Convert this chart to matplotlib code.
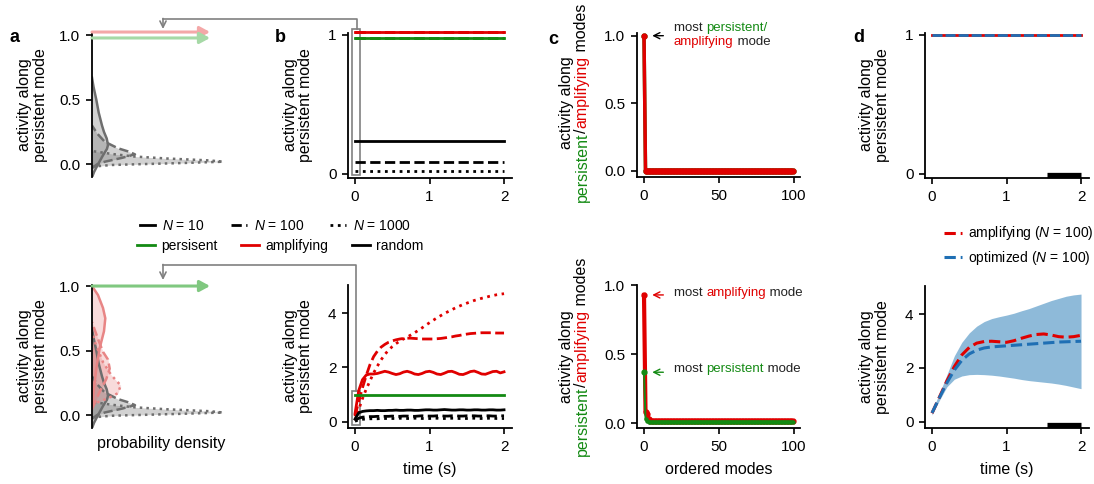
import numpy as np
import matplotlib
matplotlib.use('Agg')
import matplotlib.pyplot as plt
from matplotlib.patches import Rectangle
from matplotlib.lines import Line2D

plt.rcParams['font.family'] = ['Liberation Sans', 'DejaVu Sans']
plt.rcParams['mathtext.fontset'] = 'custom'
plt.rcParams['mathtext.rm'] = 'Liberation Sans'
plt.rcParams['mathtext.it'] = 'Liberation Sans:italic'
plt.rcParams['font.size'] = 11
plt.rcParams['axes.linewidth'] = 1.3
plt.rcParams['xtick.major.size'] = 4.3
plt.rcParams['ytick.major.size'] = 4.3
plt.rcParams['xtick.major.width'] = 1.2
plt.rcParams['ytick.major.width'] = 1.2
plt.rcParams['xtick.major.pad'] = 4
plt.rcParams['ytick.major.pad'] = 4
plt.rcParams['xtick.labelsize'] = 11
plt.rcParams['ytick.labelsize'] = 11

RED = '#e00000'
GREEN = '#138a13'
BLUE = '#1f6fb4'
GRAY = '#808080'

# ---------------- data ----------------
# a: densities of activity along persistent mode (y value, density)
rnd10_y = [-0.10, -0.06, 0.0, 0.07, 0.12, 0.15, 0.20, 0.25, 0.30, 0.40, 0.50, 0.60, 0.67]
rnd10_d = [0, 2, 6, 11, 15, 16, 14.7, 12, 10, 6.7, 4.3, 1.5, 0]
rnd100_y = [-0.03, 0.0, 0.02, 0.05, 0.077, 0.10, 0.124, 0.175, 0.24, 0.30]
rnd100_d = [0, 5, 12.7, 30, 43, 36, 26, 12.7, 5, 0]
rnd1000_y = [-0.018, -0.005, 0.0, 0.01, 0.02, 0.03, 0.045, 0.06, 0.08, 0.103]
rnd1000_d = [0, 20, 43, 90, 131, 118, 75, 43, 20, 0]

amp10_y = [0.05, 0.21, 0.36, 0.52, 0.65, 0.75, 0.83, 0.93, 1.0]
amp10_d = [0, 2, 4.3, 7.7, 12, 13.3, 11, 6, 0]
amp100_y = [0.05, 0.18, 0.28, 0.36, 0.43, 0.49, 0.59, 0.72]
amp100_d = [0, 7.7, 14.3, 17.7, 16, 11, 6, 0]
amp1000_y = [0.065, 0.10, 0.13, 0.17, 0.23, 0.31, 0.41, 0.57, 0.65]
amp1000_d = [0, 6, 16, 26, 28.7, 19.3, 11, 2.7, 0]

# b: activity along persistent mode over time
t_top = [0.0, 2.0]
b_top_amp = [1.02, 1.02]
b_top_per = [0.98, 0.98]
b_top_rnd = {10: [0.237, 0.237], 100: [0.086, 0.086], 1000: [0.024, 0.024]}

t_b = np.linspace(0, 2, 41)
b_amp10 = [0.30, 1.15, 1.55, 1.72, 1.76, 1.76, 1.78, 1.82, 1.86, 1.83, 1.78, 1.74, 1.77, 1.83,
           1.86, 1.82, 1.76, 1.74, 1.78, 1.84, 1.86, 1.82, 1.76, 1.74, 1.79, 1.85, 1.86, 1.81,
           1.75, 1.74, 1.79, 1.85, 1.87, 1.82, 1.76, 1.75, 1.80, 1.85, 1.86, 1.80, 1.84]
b_amp100 = [0.20, 0.75, 1.25, 1.70, 2.10, 2.40, 2.60, 2.75, 2.85, 2.93, 2.98, 3.02, 3.05, 3.07,
            3.08, 3.08, 3.07, 3.06, 3.05, 3.05, 3.05, 3.05, 3.06, 3.07, 3.09, 3.11, 3.13, 3.16,
            3.18, 3.21, 3.23, 3.25, 3.26, 3.27, 3.28, 3.28, 3.28, 3.28, 3.27, 3.27, 3.27]
b_amp1000 = [0.05, 0.45, 0.85, 1.20, 1.50, 1.80, 2.05, 2.28, 2.48, 2.64, 2.77, 2.88, 2.97, 3.05,
             3.12, 3.20, 3.28, 3.37, 3.46, 3.56, 3.65, 3.74, 3.83, 3.91, 3.99, 4.06, 4.13, 4.20,
             4.26, 4.32, 4.37, 4.42, 4.47, 4.51, 4.55, 4.58, 4.62, 4.65, 4.68, 4.70, 4.72]
b_rnd10 = [0.10, 0.33, 0.38, 0.40, 0.41, 0.41, 0.42, 0.41, 0.41, 0.42, 0.42, 0.43, 0.42, 0.42,
           0.43, 0.43, 0.42, 0.42, 0.43, 0.44, 0.44, 0.43, 0.43, 0.44, 0.45, 0.44, 0.43, 0.43,
           0.44, 0.44, 0.43, 0.43, 0.44, 0.44, 0.43, 0.43, 0.44, 0.44, 0.43, 0.43, 0.44]
b_rnd100 = [0.05, 0.13, 0.17, 0.18, 0.19, 0.19, 0.20, 0.19, 0.20, 0.20, 0.21, 0.20, 0.20, 0.21,
            0.21, 0.20, 0.20, 0.21, 0.22, 0.21, 0.21, 0.21, 0.22, 0.22, 0.21, 0.21, 0.22, 0.22,
            0.21, 0.21, 0.22, 0.22, 0.22, 0.21, 0.21, 0.22, 0.22, 0.21, 0.21, 0.22, 0.22]
b_rnd1000 = [0.02, 0.07, 0.09, 0.10, 0.11, 0.11, 0.11, 0.12, 0.12, 0.12, 0.12, 0.12, 0.13, 0.12,
             0.12, 0.12, 0.13, 0.13, 0.12, 0.12, 0.12, 0.13, 0.13, 0.12, 0.12, 0.12, 0.13, 0.13,
             0.12, 0.12, 0.12, 0.13, 0.13, 0.12, 0.12, 0.12, 0.13, 0.13, 0.12, 0.12, 0.12]
b_per = [1.0] * 41

# c: activity along ordered modes
modes = np.arange(100)
c_top_amp = [1.0] + [0.0] * 99
c_top_per = [1.0] + [0.0] * 99
c_bot_amp = [0.93, 0.085, 0.07, 0.03] + [0.015] * 96
c_bot_per = [0.37, 0.03, 0.02] + [0.012] * 97

# d: amplifying vs optimized network
d_top_amp = [1.0, 1.0]
d_top_opt = [1.0, 1.0]
t_d = np.linspace(0, 2, 21)
d_amp = [0.32, 0.92, 1.52, 2.05, 2.48, 2.76, 2.92, 2.98, 2.99, 2.97, 2.95, 3.01, 3.10, 3.18,
         3.24, 3.26, 3.22, 3.16, 3.14, 3.16, 3.21]
d_opt = [0.33, 0.90, 1.45, 1.92, 2.28, 2.52, 2.66, 2.74, 2.78, 2.80, 2.82, 2.84, 2.86, 2.88,
         2.90, 2.92, 2.94, 2.96, 2.97, 2.98, 2.99]
d_opt_hi = [0.42, 1.05, 1.75, 2.45, 2.95, 3.30, 3.55, 3.72, 3.83, 3.90, 3.96, 4.03, 4.12, 4.20,
            4.30, 4.40, 4.50, 4.58, 4.66, 4.71, 4.74]
d_opt_lo = [0.25, 0.80, 1.30, 1.58, 1.70, 1.75, 1.76, 1.75, 1.73, 1.70, 1.66, 1.62, 1.57, 1.53,
            1.50, 1.47, 1.44, 1.40, 1.35, 1.29, 1.23]
delay = [1.55, 2.0]

# ---------------- figure ----------------
W, H = 1094, 484
fig = plt.figure(figsize=(W / 100, H / 100), dpi=100)


def add_ax(l, t, r, b):
    ax = fig.add_axes([l / W, 1 - b / H, (r - l) / W, (b - t) / H])
    ax.spines['top'].set_visible(False)
    ax.spines['right'].set_visible(False)
    ax.patch.set_alpha(0)
    return ax


a_top = add_ax(92, 33, 230, 177)
a_bot = add_ax(92, 285, 230, 428)
b_top = add_ax(348, 33, 512, 178)
b_bot = add_ax(348, 285, 512, 428)
c_top = add_ax(637, 33, 800, 177)
c_bot = add_ax(637, 285, 800, 428)
d_top = add_ax(925, 33, 1089, 178)
d_bot = add_ax(925, 286, 1089, 428)

# overlay in pixel coordinates for connectors / labels
ov = fig.add_axes([0, 0, 1, 1])
ov.set_xlim(0, W)
ov.set_ylim(H, 0)
ov.axis('off')

# ---- a ----
styles = {10: '-', 100: '--', 1000: ':'}


def density(ax, y, d, ls, fc, lc, alpha):
    ax.fill_betweenx(y, 0, d, color=fc, alpha=alpha, lw=0)
    ax.plot(d, y, ls=ls, color=lc, lw=1.8)


for ax in (a_top, a_bot):
    ax.spines['bottom'].set_visible(False)
    ax.set_xticks([])
    ax.set_xlim(0, 138)
    ax.set_yticks([0, 0.5, 1.0])
    for y, d, n in ((rnd10_y, rnd10_d, 10), (rnd100_y, rnd100_d, 100), (rnd1000_y, rnd1000_d, 1000)):
        density(ax, y, d, styles[n], GRAY, '#6e6e6e', 0.35)

a_top.set_ylim(-0.098, 1.0155)
a_bot.set_ylim(-0.10, 1.008)
for y, d, n in ((amp10_y, amp10_d, 10), (amp100_y, amp100_d, 100), (amp1000_y, amp1000_d, 1000)):
    density(a_bot, y, d, styles[n], '#e57373', '#e88585', 0.25)


def harrow(ax, y, color, dotcolor=None):
    ax.annotate('', xy=(118, y), xytext=(0, y), annotation_clip=False,
                arrowprops=dict(arrowstyle='-|>,head_length=0.55,head_width=0.3',
                                color=color, lw=2.2, shrinkA=0, shrinkB=0))
    if dotcolor:
        ax.plot([0, 108], [y, y], color=dotcolor, ls=':', lw=1.4, clip_on=False)


harrow(a_top, 1.023, '#f4a8a8', '#e88080')
harrow(a_top, 0.977, '#a6d9a6', '#78c078')
harrow(a_bot, 1.0, '#80c880')
a_bot.set_xlabel('probability density', fontsize=11.5, labelpad=6)

# ---- b ----
for ax in (b_top, b_bot):
    ax.set_xlim(-0.094, 2.107)
    ax.set_xticks([0, 1, 2])
b_top.set_ylim(-0.029, 1.014)
b_top.set_yticks([0, 1])
for n in (10, 100, 1000):
    b_top.plot(t_top, b_top_per, color=GREEN, ls=styles[n], lw=2, clip_on=False)
for n in (10, 100, 1000):
    b_top.plot(t_top, b_top_amp, color=RED, ls=styles[n], lw=2, clip_on=False)
    b_top.plot(t_top, b_top_rnd[n], color='k', ls=styles[n], lw=2, clip_on=False)
b_top.add_patch(Rectangle((-0.044, -0.005), 0.11, 1.05, fill=False, ec='gray', lw=1.2, clip_on=False))

b_bot.set_ylim(-0.23, 5.04)
b_bot.set_yticks([0, 2, 4])
for n, vals in ((10, b_amp10), (100, b_amp100), (1000, b_amp1000)):
    b_bot.plot(t_b, vals, color=RED, ls=styles[n], lw=2)
for n, vals in ((10, b_rnd10), (100, b_rnd100), (1000, b_rnd1000)):
    b_bot.plot(t_b, vals, color='k', ls=styles[n], lw=2)
b_bot.plot(t_b, b_per, color=GREEN, lw=2)
b_bot.add_patch(Rectangle((-0.045, -0.12), 0.11, 1.26, fill=False, ec='gray', lw=1.2, clip_on=False))
b_bot.set_xlabel('time (s)', fontsize=11.5, labelpad=6)

# ---- c ----
for ax in (c_top, c_bot):
    ax.set_xlim(-4.67, 104)
    ax.set_xticks([0, 50, 100])
    ax.set_yticks([0, 0.5, 1.0])
c_top.set_ylim(-0.047, 1.02)
c_bot.set_ylim(-0.034, 1.002)
c_top.plot(modes, c_top_per, color=GREEN, lw=2.5, marker='o', ms=3.5)
c_top.plot(modes, c_top_amp, color=RED, lw=2.5, marker='o', ms=3.5)
c_bot.plot(modes, c_bot_amp, color=RED, lw=3, marker='o', ms=3.5)
c_bot.plot(modes, c_bot_per, color=GREEN, lw=1.4, marker='o', ms=2.2)
c_bot.plot(modes[:1], c_bot_per[:1], color=GREEN, marker='o', ms=3.5, ls='none')
c_bot.set_xlabel('ordered modes', fontsize=11.5, labelpad=6)


def c_arrow(ax, y, color):
    ax.annotate('', xy=(5.5, y), xytext=(12.9, y), annotation_clip=False,
                arrowprops=dict(arrowstyle='->', color=color, lw=1, shrinkA=0, shrinkB=0))


c_arrow(c_top, 1.0, 'k')
c_arrow(c_bot, c_bot_amp[0], RED)
c_arrow(c_bot, c_bot_per[0], GREEN)

# ---- d ----
for ax in (d_top, d_bot):
    ax.set_xlim(-0.094, 2.107)
    ax.set_xticks([0, 1, 2])
d_top.set_ylim(-0.029, 1.014)
d_top.set_yticks([0, 1])
d_top.plot(t_top, d_top_amp, color=RED, lw=2)
d_top.plot(t_top, d_top_opt, color=BLUE, lw=2, dashes=(3.6, 1.1))
d_top.plot(delay, [0.024, 0.024], color='k', lw=3.8, solid_capstyle='butt',
           transform=d_top.get_xaxis_transform(), clip_on=False)

d_bot.set_ylim(-0.23, 5.04)
d_bot.set_yticks([0, 2, 4])
d_bot.fill_between(t_d, d_opt_lo, d_opt_hi, color='#1f77b4', alpha=0.5, lw=0)
d_bot.plot(t_d, d_amp, color=RED, ls='--', lw=2.2)
d_bot.plot(t_d, d_opt, color=BLUE, ls='--', lw=2.2)
d_bot.plot(delay, [0.021, 0.021], color='k', lw=3.8, solid_capstyle='butt',
           transform=d_bot.get_xaxis_transform(), clip_on=False)
d_bot.set_xlabel('time (s)', fontsize=11.5, labelpad=6)

# ---- legends ----
leg_n = [Line2D([], [], color='k', lw=2, ls=styles[n]) for n in (10, 100, 1000)]
fig.legend(leg_n, ['$N$ = 10', '$N$ = 100', '$N$ = 1000'], ncol=3, frameon=False,
           loc='center left', bbox_to_anchor=(140 / W, 1 - 226 / H), fontsize=10,
           handlelength=1.1, handletextpad=0.5, columnspacing=1.9, borderpad=0, borderaxespad=0)
leg_c = [Line2D([], [], color=c, lw=2) for c in (GREEN, RED, 'k')]
fig.legend(leg_c, ['persisent', 'amplifying', 'random'], ncol=3, frameon=False,
           loc='center left', bbox_to_anchor=(137 / W, 1 - 246 / H), fontsize=10,
           handlelength=1.3, handletextpad=0.45, columnspacing=1.7, borderpad=0, borderaxespad=0)
leg_d = [Line2D([], [], color=RED, lw=2.2, ls='--'), Line2D([], [], color=BLUE, lw=2.2, ls='--')]
fig.legend(leg_d, ['amplifying ($N$ = 100)', 'optimized ($N$ = 100)'], frameon=False,
           loc='center left', bbox_to_anchor=(944 / W, 1 - 245.5 / H), fontsize=10,
           handlelength=1.3, handletextpad=0.4, labelspacing=0.45, borderpad=0, borderaxespad=0)

# ---- connectors ----
for xr, yr, yh, ya in ((356.5, 29, 19, 29), (356, 391, 265, 280)):
    ov.plot([xr, xr, 163], [yr, yh, yh], color='gray', lw=1.2)
    ov.annotate('', xy=(163, ya), xytext=(163, yh - 0.5),
                arrowprops=dict(arrowstyle='->', color='gray', lw=1.2, shrinkA=0, shrinkB=0))

# ---- panel letters and y labels ----
for s, x, y in (('a', 15, 38), ('b', 280, 37), ('c', 553, 40), ('d', 859, 37)):
    ov.text(x, y, s, fontsize=13, fontweight='bold', ha='center', va='center')

ylab = 'activity along\npersistent mode'
for x, y in ((32.5, 105), (32.5, 356), (298, 105), (298, 356), (874.5, 105), (874.5, 357)):
    ov.text(x, y, ylab, rotation=90, ha='center', va='center', fontsize=11.5, linespacing=1.05)

renderer = fig.canvas.get_renderer()


def text_len(s, **kw):
    t1 = ov.text(0, 0, '|' + s + '|', **kw)
    t0 = ov.text(0, 0, '||', **kw)
    w = t1.get_window_extent(renderer).width - t0.get_window_extent(renderer).width
    t1.remove()
    t0.remove()
    return w


def rainbow_h(x, y, pieces, size):
    for s, c in pieces:
        ov.text(x, y, s, color=c, fontsize=size, ha='left', va='center')
        x += text_len(s, fontsize=size)


def rainbow_v(x, yc, pieces, size):
    lens = [text_len(s, fontsize=size) for s, _ in pieces]
    y = yc + sum(lens) / 2
    for (s, c), L in zip(pieces, lens):
        ov.text(x, y, s, color=c, fontsize=size, rotation=90, rotation_mode='anchor',
                ha='left', va='center')
        y -= L


for yc in (103, 357):
    ov.text(566, yc, 'activity along', rotation=90, ha='center', va='center', fontsize=11.5)
    rainbow_v(582, yc, [('persistent', GREEN), ('/', 'k'), ('amplifying', RED), (' modes', 'k')], 11.5)

rainbow_h(674, 28, [('most ', '#222222'), ('persistent/', GREEN)], 9.5)
rainbow_h(674, 42, [('amplifying', RED), (' mode', '#222222')], 9.5)
rainbow_h(674, 293, [('most ', '#222222'), ('amplifying', RED), (' mode', '#222222')], 9.5)
rainbow_h(674, 369, [('most ', '#222222'), ('persistent', GREEN), (' mode', '#222222')], 9.5)

fig.savefig('out.png', dpi=100)
